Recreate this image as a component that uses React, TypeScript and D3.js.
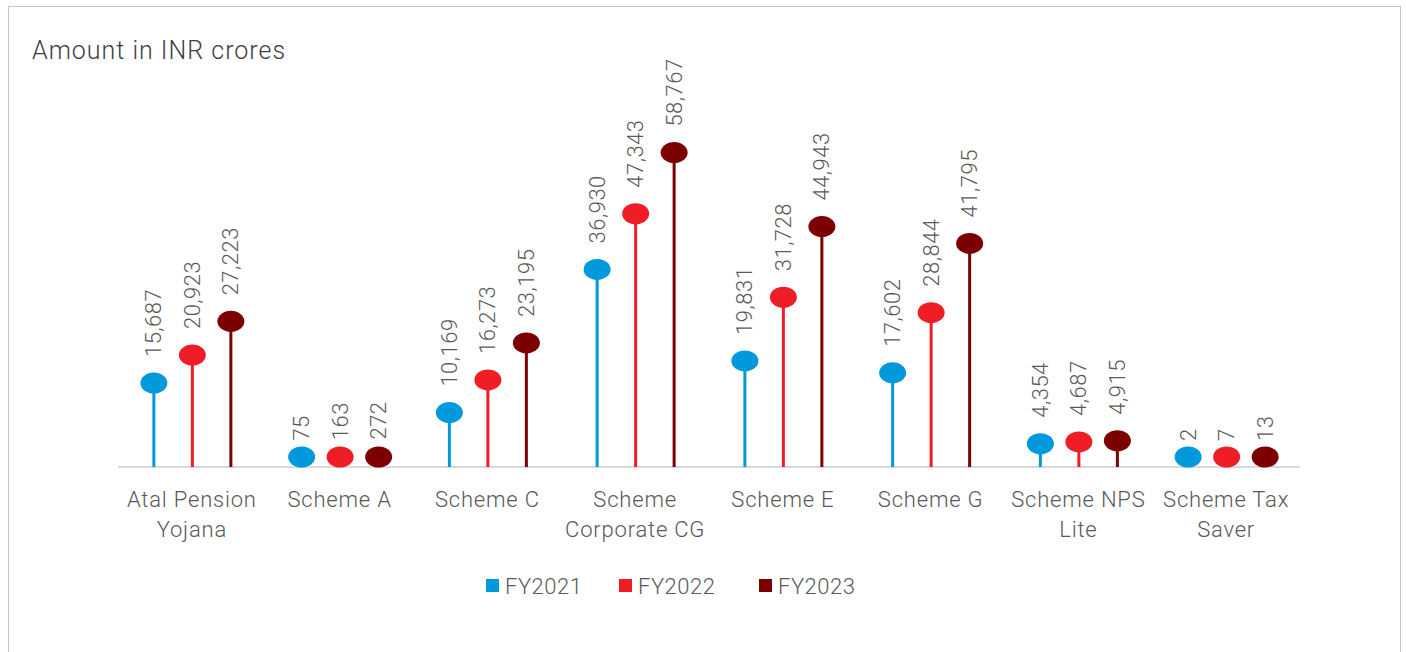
import { useEffect, useRef } from 'react';
import * as d3 from 'd3';

// chart data
const categories = [
  'Atal Pension Yojana',
  'Scheme A',
  'Scheme C',
  'Scheme Corporate CG',
  'Scheme E',
  'Scheme G',
  'Scheme NPS Lite',
  'Scheme Tax Saver',
];
const seriesNames = ['FY2021', 'FY2022', 'FY2023'];
const fy2021 = [15687, 75, 10169, 36930, 19831, 17602, 4354, 2];
const fy2022 = [20923, 163, 16273, 47343, 31728, 28844, 4687, 7];
const fy2023 = [27223, 272, 23195, 58767, 44943, 41795, 4915, 13];
const seriesValues = [fy2021, fy2022, fy2023];
const colors = ['#0099dc', '#ee1d26', '#7d0000'];

const W = 1406;
const H = 652;
const baseY = 467;
const textColor = '#595959';
const font = 'Roboto, "Noto Sans", sans-serif';

const App = () => {
  const axisRef = useRef<SVGGElement>(null);

  const x0 = d3.scaleBand<string>().domain(categories).range([118, 1300]);
  const x1 = d3.scalePoint<string>().domain(seriesNames).range([-38, 39]);
  const y = d3.scaleLinear().domain([0, 60000]).range([baseY, 146]);
  const fmt = d3.format(',');

  // wrap long category names onto two lines
  useEffect(() => {
    if (!axisRef.current) return;
    const g = d3.select(axisRef.current);
    g.selectAll<SVGTextElement, unknown>('text').each(function (_, i) {
      const text = d3.select(this);
      const name = categories[i];
      text.text(null);
      const words = name.split(' ');
      const maxW = x0.bandwidth() - 2;
      let line: string[] = [];
      let lineNo = 0;
      let tspan = text.append('tspan').attr('x', text.attr('x')).attr('y', 499);
      words.forEach((w) => {
        line.push(w);
        tspan.text(line.join(' '));
        if ((tspan.node() as SVGTSpanElement).getComputedTextLength() > maxW && line.length > 1) {
          line.pop();
          tspan.text(line.join(' '));
          line = [w];
          lineNo++;
          tspan = text
            .append('tspan')
            .attr('x', text.attr('x'))
            .attr('y', 499 + lineNo * 30)
            .text(w);
        }
      });
    });
  }, []);

  return (
    <svg
      width={W}
      height={H}
      style={{ position: 'absolute', left: 0, top: 0 }}
      fontFamily={font}
    >
      <rect x={8.5} y={6.5} width={1392} height={700} fill='white' stroke='#c6c6c6' />
      <text x={32} y={59} fontSize={25} fill='#404040' fontWeight={300} letterSpacing={1}>
        Amount in INR crores
      </text>

      <line x1={118} x2={1300} y1={baseY} y2={baseY} stroke='#d9d9d9' strokeWidth={2} />

      {categories.map((c, ci) => (
        <g key={c} transform={`translate(${(x0(c) || 0) + x0.bandwidth() / 2},0)`}>
          {seriesNames.map((s, si) => {
            const v = seriesValues[si][ci];
            const cx = x1(s) || 0;
            const cy = Math.min(y(v), baseY - 10);
            const ly = y(v) - 26;
            return (
              <g key={s}>
                <line x1={cx} x2={cx} y1={baseY} y2={cy} stroke={colors[si]} strokeWidth={3} />
                <ellipse cx={cx} cy={cy} rx={13.5} ry={10.5} fill={colors[si]} />
                <text
                  x={cx}
                  y={ly}
                  transform={`rotate(-90,${cx},${ly})`}
                  dominantBaseline='central'
                  fontSize={22}
                  fontWeight={300}
                  letterSpacing={0.5}
                  fill={textColor}
                >
                  {fmt(v)}
                </text>
              </g>
            );
          })}
        </g>
      ))}

      <g ref={axisRef}>
        {categories.map((c) => (
          <text
            key={c}
            x={(x0(c) || 0) + x0.bandwidth() / 2}
            y={499}
            textAnchor='middle'
            dominantBaseline='central'
            fontSize={22}
            fontWeight={300}
            letterSpacing={0.8}
            fill={textColor}
          >
            {c}
          </text>
        ))}
      </g>

      {/* Legend */}
      {seriesNames.map((s, i) => {
        const lx = [486, 619, 759][i];
        return (
          <g key={s} transform={`translate(${lx},579)`}>
            <rect width={13} height={13} fill={colors[i]} />
            <text
              x={19}
              y={7}
              dominantBaseline='central'
              fontSize={22}
              fontWeight={300}
              letterSpacing={0.5}
              fill={textColor}
            >
              {s}
            </text>
          </g>
        );
      })}
    </svg>
  );
};

export default App;
